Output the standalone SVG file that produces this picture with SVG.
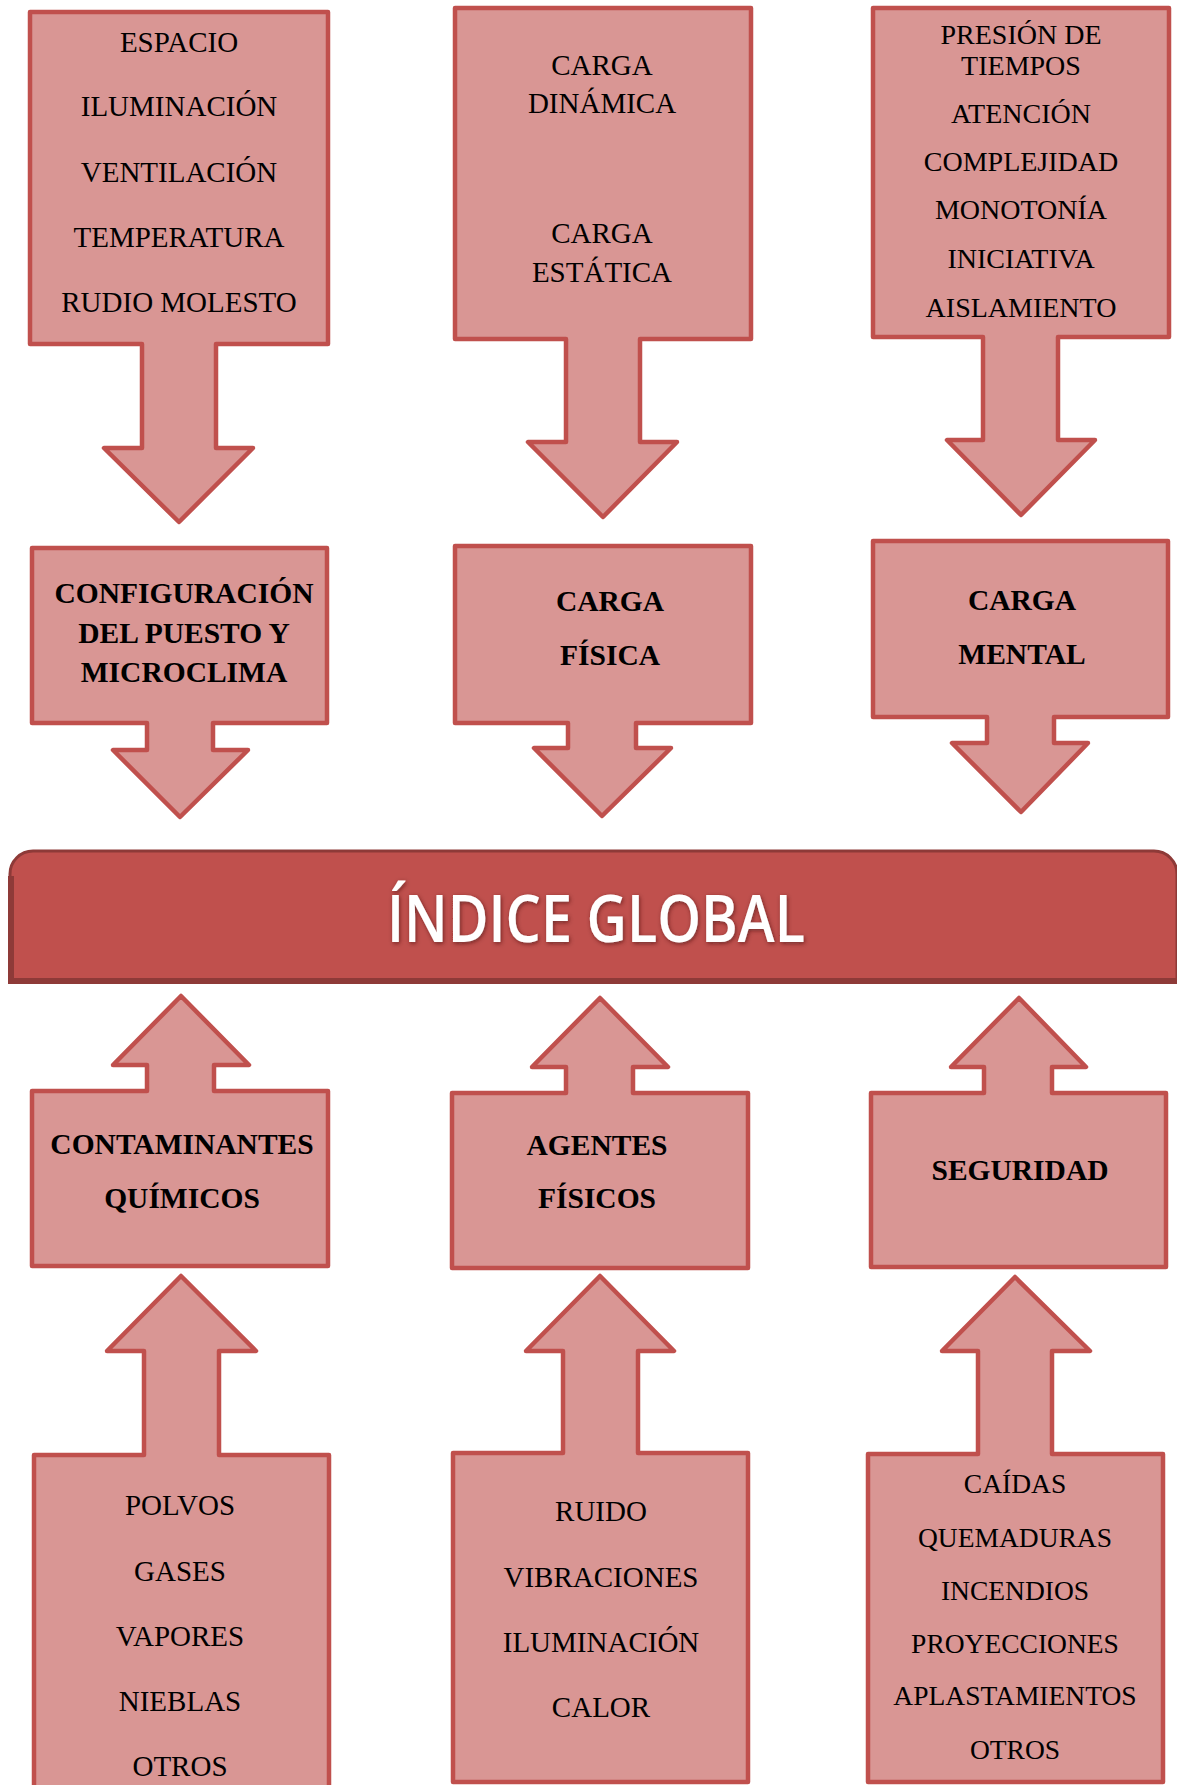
<svg xmlns="http://www.w3.org/2000/svg" width="1177" height="1785" viewBox="0 0 1177 1785">
<style>
.shape{fill:#D99694;stroke:#C0504D;stroke-width:4.5;stroke-linejoin:round}
.t{font-family:"Liberation Serif","Times New Roman",serif;font-size:29px;fill:#000;text-anchor:middle}
.b{font-family:"Liberation Serif","Times New Roman",serif;font-size:29.5px;font-weight:bold;fill:#000;text-anchor:middle}
.banner{fill:#C0504D;stroke:#8E3A38;stroke-width:3;stroke-linejoin:round}
.bedge{fill:none;stroke:#8E3A38;stroke-width:6}
.bt{font-family:"Open Sans",Lato,sans-serif;font-size:66px;font-weight:600;fill:#fff;text-anchor:middle}
</style>
<defs>
<filter id="sh" x="-10%" y="-30%" width="120%" height="160%">
<feDropShadow dx="1" dy="1.5" stdDeviation="2" flood-color="#3a0d0c" flood-opacity="0.6"/>
</filter>
</defs>
<rect width="1177" height="1785" fill="#fff"/>

<g id="connectors"></g>

<g id="node-top-1">
<path class="shape" d="M30,12 H328 V344 H216 V448 H253 L179,522 L104,448 H142 V344 H30 Z"/>
<text class="t" x="179" y="52">ESPACIO</text>
<text class="t" x="179" y="116">ILUMINACIÓN</text>
<text class="t" x="179" y="182">VENTILACIÓN</text>
<text class="t" x="179" y="247">TEMPERATURA</text>
<text class="t" x="179" y="312">RUDIO MOLESTO</text>
</g>

<g id="node-top-2">
<path class="shape" d="M455,8 H751 V339 H640 V442 H677 L603,517 L528,442 H566 V339 H455 Z"/>
<text class="t" x="602" y="75">CARGA</text>
<text class="t" x="602" y="113">DINÁMICA</text>
<text class="t" x="602" y="243">CARGA</text>
<text class="t" x="602" y="282">ESTÁTICA</text>
</g>

<g id="node-top-3">
<path class="shape" d="M873,8 H1169 V337 H1058 V440 H1095 L1021,515 L947,440 H983 V337 H873 Z"/>
<text class="t" x="1021" y="44" style="font-size:28px">PRESIÓN DE</text>
<text class="t" x="1021" y="75" style="font-size:28px">TIEMPOS</text>
<text class="t" x="1021" y="123" style="font-size:28px">ATENCIÓN</text>
<text class="t" x="1021" y="171" style="font-size:28px">COMPLEJIDAD</text>
<text class="t" x="1021" y="219" style="font-size:28px">MONOTONÍA</text>
<text class="t" x="1021" y="268" style="font-size:28px">INICIATIVA</text>
<text class="t" x="1021" y="317" style="font-size:28px">AISLAMIENTO</text>
</g>

<g id="node-configuracion">
<path class="shape" d="M32,548 H327 V723 H213 V750 H248 L180,817 L113,750 H147 V723 H32 Z"/>
<text class="b" x="184" y="603">CONFIGURACIÓN</text>
<text class="b" x="184" y="643">DEL PUESTO Y</text>
<text class="b" x="184" y="682">MICROCLIMA</text>
</g>

<g id="node-carga-fisica">
<path class="shape" d="M455,546 H751 V723 H636 V748 H671 L602,816 L534,748 H568 V723 H455 Z"/>
<text class="b" x="610" y="611">CARGA</text>
<text class="b" x="610" y="665">FÍSICA</text>
</g>

<g id="node-carga-mental">
<path class="shape" d="M873,541 H1168 V717 H1054 V743 H1088 L1021,812 L952,743 H987 V717 H873 Z"/>
<text class="b" x="1022" y="610">CARGA</text>
<text class="b" x="1022" y="664">MENTAL</text>
</g>

<g id="node-indice-global">
<path class="banner" d="M10,982 V874 A23,23 0 0 1 33,851 H1154 A23,23 0 0 1 1177,874 V982 Z"/>
<path class="bedge" d="M11,876 V981 H1180"/>
<text class="bt" x="596" y="942" textLength="418" lengthAdjust="spacingAndGlyphs" filter="url(#sh)">ÍNDICE GLOBAL</text>
</g>

<g id="node-contaminantes">
<path class="shape" d="M181,996 L249,1065 H214 V1091 H328 V1266 H32 V1091 H147 V1065 H113 Z"/>
<text class="b" x="182" y="1154">CONTAMINANTES</text>
<text class="b" x="182" y="1208">QUÍMICOS</text>
</g>

<g id="node-agentes">
<path class="shape" d="M600,998 L668,1067 H633 V1093 H748 V1268 H452 V1093 H566 V1067 H532 Z"/>
<text class="b" x="597" y="1155">AGENTES</text>
<text class="b" x="597" y="1208">FÍSICOS</text>
</g>

<g id="node-seguridad">
<path class="shape" d="M1019,998 L1086,1067 H1052 V1093 H1166 V1267 H871 V1093 H984 V1067 H951 Z"/>
<text class="b" x="1020" y="1180">SEGURIDAD</text>
</g>

<g id="node-bottom-1">
<path class="shape" d="M181,1276 L256,1351 H219 V1455 H329 V1800 H34 V1455 H144 V1351 H107 Z"/>
<text class="t" x="180" y="1515">POLVOS</text>
<text class="t" x="180" y="1581">GASES</text>
<text class="t" x="180" y="1646">VAPORES</text>
<text class="t" x="180" y="1711">NIEBLAS</text>
<text class="t" x="180" y="1776">OTROS</text>
</g>

<g id="node-bottom-2">
<path class="shape" d="M600,1276 L674,1351 H638 V1453 H748 V1782 H453 V1453 H563 V1351 H526 Z"/>
<text class="t" x="601" y="1521">RUIDO</text>
<text class="t" x="601" y="1587">VIBRACIONES</text>
<text class="t" x="601" y="1652">ILUMINACIÓN</text>
<text class="t" x="601" y="1717">CALOR</text>
</g>

<g id="node-bottom-3">
<path class="shape" d="M1015,1277 L1090,1351 H1052 V1454 H1163 V1782 H868 V1454 H978 V1351 H942 Z"/>
<text class="t" x="1015" y="1493" style="font-size:27.5px">CAÍDAS</text>
<text class="t" x="1015" y="1547" style="font-size:27.5px">QUEMADURAS</text>
<text class="t" x="1015" y="1600" style="font-size:27.5px">INCENDIOS</text>
<text class="t" x="1015" y="1653" style="font-size:27.5px">PROYECCIONES</text>
<text class="t" x="1015" y="1705" style="font-size:27.5px">APLASTAMIENTOS</text>
<text class="t" x="1015" y="1759" style="font-size:27.5px">OTROS</text>
</g>
</svg>
